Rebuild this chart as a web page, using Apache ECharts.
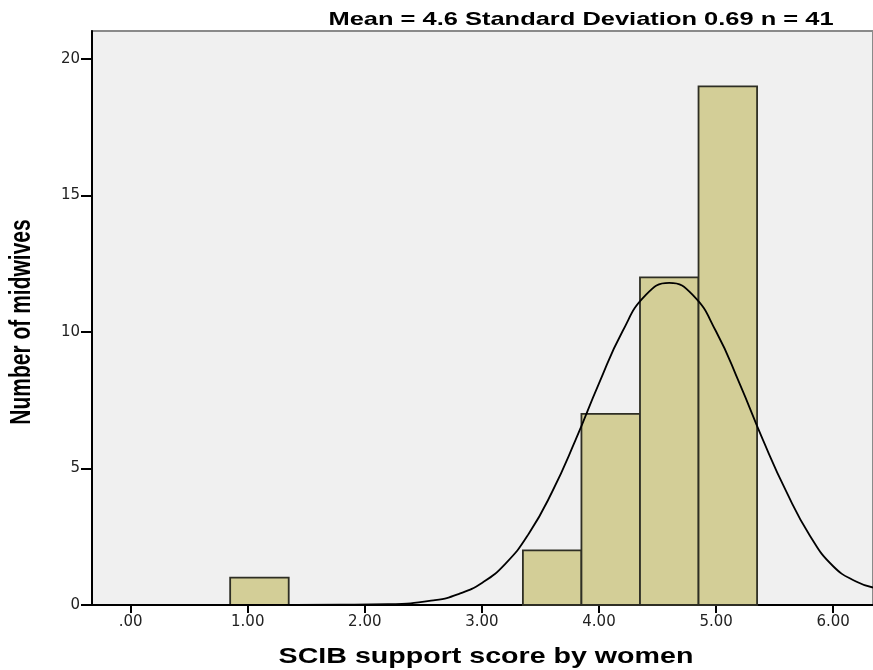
<!DOCTYPE html>
<html>
<head>
<meta charset="utf-8">
<script src="https://cdn.jsdelivr.net/npm/echarts@6/dist/echarts.min.js"></script>
<style>
html, body { margin: 0; padding: 0; background: #fff; }
#chart { width: 873px; height: 670px; }
</style>
</head>
<body>
<div id="chart"></div>
<script>
// histogram bins (start, end) and counts
var binStart = [0.85, 3.35, 3.85, 4.35, 4.85];
var binEnd = [1.35, 3.85, 4.35, 4.85, 5.35];
var binCount = [1, 2, 7, 12, 19];

// normal curve points
var curveX = [-0.33, 1.0, 1.8, 2.2, 2.6, 2.8, 3.0, 3.2, 3.4, 3.6, 3.8, 4.0, 4.2, 4.4, 4.6, 4.8, 5.0, 5.2, 5.4, 5.6, 5.8, 6.0, 6.2, 6.34];
var curveY = [0, 0, 0.01, 0.03, 0.18, 0.4, 0.81, 1.51, 2.61, 4.15, 6.05, 8.12, 10.02, 11.36, 11.8, 11.36, 10.02, 8.12, 6.05, 4.15, 2.55, 1.42, 0.85, 0.64];

var xTicks = [0, 1, 2, 3, 4, 5, 6];
var yTicks = [0, 5, 10, 15, 20];

var titleText = 'Mean = 4.6 Standard Deviation 0.69 n = 41';
var xName = 'SCIB support score by women';
var yName = 'Number of midwives';

var chartDom = document.getElementById('chart');
var myChart = echarts.init(chartDom);

var barData = [];
for (var i = 0; i < binCount.length; i++) {
    barData.push([binStart[i], binEnd[i], binCount[i]]);
}
var curveData = [];
for (var j = 0; j < curveX.length; j++) {
    curveData.push([curveX[j], curveY[j]]);
}

var tickFont = {
    fontFamily: 'DejaVu Sans',
    fontSize: 15,
    color: '#222'
};

var option = {
    animation: false,
    backgroundColor: '#ffffff',
    // the source picture is stretched sideways, so the texts are scaled too
    graphic: [
        {
            type: 'text',
            x: 581,
            y: 20,
            scaleX: 1.34,
            style: {
                text: titleText,
                x: 0,
                y: 0,
                align: 'center',
                verticalAlign: 'middle',
                font: 'bold 19px "Liberation Sans", Arial, sans-serif',
                fill: '#000'
            }
        },
        {
            type: 'text',
            x: 486,
            y: 657,
            scaleX: 1.3,
            style: {
                text: xName,
                x: 0,
                y: 0,
                align: 'center',
                verticalAlign: 'middle',
                font: 'bold 22px "Liberation Sans", Arial, sans-serif',
                fill: '#000'
            }
        },
        {
            type: 'text',
            x: 22,
            y: 322,
            rotation: Math.PI / 2,
            scaleY: 1.4,
            style: {
                text: yName,
                x: 0,
                y: 0,
                align: 'center',
                verticalAlign: 'middle',
                font: 'bold 21px "Liberation Sans", Arial, sans-serif',
                fill: '#000'
            }
        }
    ],
    grid: {
        left: 92,
        right: 0,
        top: 31,
        bottom: 65,
        show: true,
        backgroundColor: '#f0f0f0',
        borderColor: '#8a8a8a',
        borderWidth: 2
    },
    xAxis: {
        type: 'value',
        min: -0.33,
        max: 6.34,
        splitLine: { show: false },
        axisLine: { onZero: false, lineStyle: { color: '#000', width: 2 } },
        axisTick: {
            customValues: xTicks,
            length: 8,
            lineStyle: { color: '#000', width: 2 }
        },
        axisLabel: {
            customValues: xTicks,
            margin: 10,
            fontFamily: tickFont.fontFamily,
            fontSize: tickFont.fontSize,
            color: tickFont.color,
            formatter: function (v) {
                return v === 0 ? '.00' : v.toFixed(2);
            }
        }
    },
    yAxis: {
        type: 'value',
        min: 0,
        max: 21.03,
        splitLine: { show: false },
        axisLine: { show: true, onZero: false, lineStyle: { color: '#000', width: 2 } },
        axisTick: {
            customValues: yTicks,
            length: 11,
            lineStyle: { color: '#000', width: 2 }
        },
        axisLabel: {
            customValues: yTicks,
            margin: 12,
            fontFamily: tickFont.fontFamily,
            fontSize: tickFont.fontSize,
            color: tickFont.color
        }
    },
    series: [
        {
            type: 'custom',
            data: barData,
            encode: { x: [0, 1], y: 2 },
            renderItem: function (params, api) {
                var p0 = api.coord([api.value(0), api.value(2)]);
                var p1 = api.coord([api.value(1), 0]);
                return {
                    type: 'rect',
                    shape: { x: p0[0], y: p0[1], width: p1[0] - p0[0], height: p1[1] - p0[1] },
                    style: { fill: '#d3ce97', stroke: '#2e2e24', lineWidth: 1.8 }
                };
            }
        },
        {
            type: 'line',
            data: curveData,
            smooth: true,
            showSymbol: false,
            lineStyle: { color: '#000', width: 1.8 },
            z: 5
        }
    ]
};

myChart.setOption(option);
</script>
</body>
</html>
